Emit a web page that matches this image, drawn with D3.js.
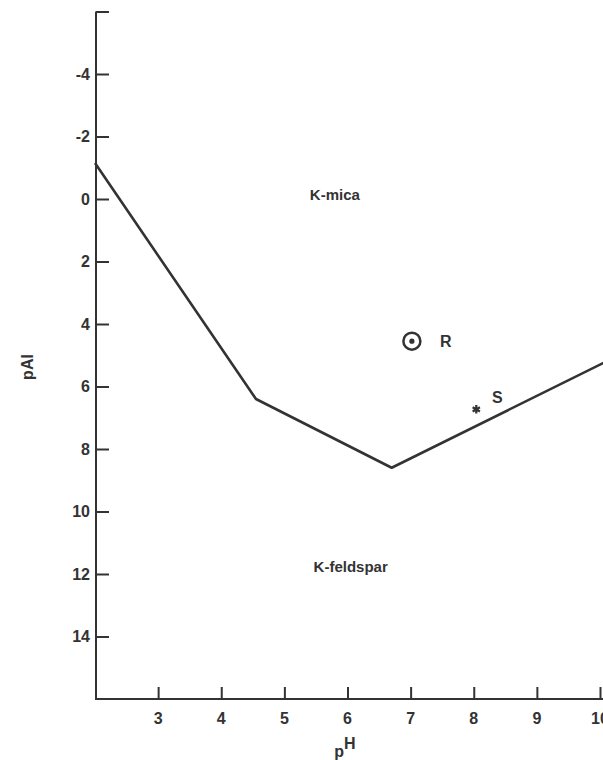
<!DOCTYPE html>
<html>
<head>
<meta charset="utf-8">
<script src="https://cdn.jsdelivr.net/npm/d3@7"></script>
<style>
  body { margin: 0; background: #fff; }
  text { font-family: "Liberation Sans", Arial, sans-serif; font-weight: bold; fill: #333; }
</style>
</head>
<body>
<div id="chart"></div>
<script>
// phase boundary K-mica / K-feldspar (pH vs pAl)
const boundaryPH = [2, 4.55, 6.7, 10.1];
const boundaryPAl = [-1.15, 6.4, 8.6, 5.2];

const xTicks = [3, 4, 5, 6, 7, 8, 9, 10];
const yTicks = [-6, -4, -2, 0, 2, 4, 6, 8, 10, 12, 14];
const yTickLabels = ["", "-4", "-2", "0", "2", "4", "6", "8", "10", "12", "14"];

// sample points
const pointNames = ["R", "S"];
const pointPH = [7.02, 8.04];
const pointPAl = [4.55, 6.73];

const regionNames = ["K-mica", "K-feldspar"];
const regionPH = [5.8, 6.05];
const regionPAl = [-0.15, 11.75];

const width = 603;
const height = 760;
const ink = "#333";

const svg = d3.select("#chart").append("svg")
  .attr("width", width)
  .attr("height", height);

const x = d3.scaleLinear().domain([2, 10]).range([95, 600]);
const y = d3.scaleLinear().domain([-6, 16]).range([11.5, 699]);

// y axis, ticks point inward
const yAxis = svg.append("g")
  .attr("transform", `translate(${x(2) + 1},0)`)
  .call(d3.axisRight(y).tickValues(yTicks).tickSize(13).tickSizeOuter(0).tickFormat(""));
yAxis.select(".domain").attr("stroke", ink).attr("stroke-width", 2)
  .attr("d", `M0,${y(-6)}V${y(16)}`);
yAxis.selectAll(".tick line").attr("stroke", ink).attr("stroke-width", 2);

svg.append("g").selectAll("text")
  .data(yTicks)
  .join("text")
    .attr("x", 90)
    .attr("y", d => y(d))
    .attr("dy", "0.36em")
    .attr("text-anchor", "end")
    .attr("font-size", 16)
    .text((d, i) => yTickLabels[i]);

// x axis, ticks point up
const xAxis = svg.append("g")
  .attr("transform", `translate(0,${y(16)})`)
  .call(d3.axisTop(x).tickValues(xTicks).tickSize(12).tickSizeOuter(0).tickFormat(""));
xAxis.select(".domain").attr("stroke", ink).attr("stroke-width", 2)
  .attr("d", `M${x(2)},0H${width}`);
xAxis.selectAll(".tick line").attr("stroke", ink).attr("stroke-width", 2);

svg.append("g").selectAll("text")
  .data(xTicks)
  .join("text")
    .attr("x", d => x(d))
    .attr("y", 724)
    .attr("text-anchor", "middle")
    .attr("font-size", 16)
    .text(d => d);

// axis titles
svg.append("text")
  .attr("transform", "translate(33,367) rotate(-90)")
  .attr("text-anchor", "middle")
  .attr("font-size", 16)
  .text("pAl");

const ph = svg.append("text")
  .attr("x", 345)
  .attr("y", 757)
  .attr("text-anchor", "middle")
  .attr("font-size", 16);
ph.append("tspan").text("p");
ph.append("tspan").attr("dy", -8).text("H");

// boundary line
const line = d3.line()
  .x(d => x(d[0]))
  .y(d => y(d[1]));

svg.append("path")
  .datum(d3.zip(boundaryPH, boundaryPAl))
  .attr("fill", "none")
  .attr("stroke", ink)
  .attr("stroke-width", 2.6)
  .attr("stroke-linejoin", "round")
  .attr("d", line);

// region labels
svg.append("g").selectAll("text")
  .data(regionNames)
  .join("text")
    .attr("x", (d, i) => x(regionPH[i]))
    .attr("y", (d, i) => y(regionPAl[i]))
    .attr("dy", "0.36em")
    .attr("text-anchor", "middle")
    .attr("font-size", 15)
    .text(d => d);

// point R: circled dot
svg.append("circle")
  .attr("cx", x(pointPH[0]))
  .attr("cy", y(pointPAl[0]))
  .attr("r", 8.5)
  .attr("fill", "none")
  .attr("stroke", ink)
  .attr("stroke-width", 2.5);
svg.append("circle")
  .attr("cx", x(pointPH[0]))
  .attr("cy", y(pointPAl[0]))
  .attr("r", 2.6)
  .attr("fill", ink);

// point S: asterisk
svg.append("path")
  .attr("transform", `translate(${x(pointPH[1])},${y(pointPAl[1])})`)
  .attr("d", d3.symbol(d3.symbolAsterisk, 50)())
  .attr("fill", "none")
  .attr("stroke", ink)
  .attr("stroke-width", 2.2);

svg.append("text")
  .attr("x", x(pointPH[0]) + 34)
  .attr("y", y(pointPAl[0]))
  .attr("dy", "0.36em")
  .attr("text-anchor", "middle")
  .attr("font-size", 16)
  .text(pointNames[0]);
svg.append("text")
  .attr("x", x(pointPH[1]) + 21)
  .attr("y", y(pointPAl[1]) - 12)
  .attr("dy", "0.36em")
  .attr("text-anchor", "middle")
  .attr("font-size", 16)
  .text(pointNames[1]);
</script>
</body>
</html>
